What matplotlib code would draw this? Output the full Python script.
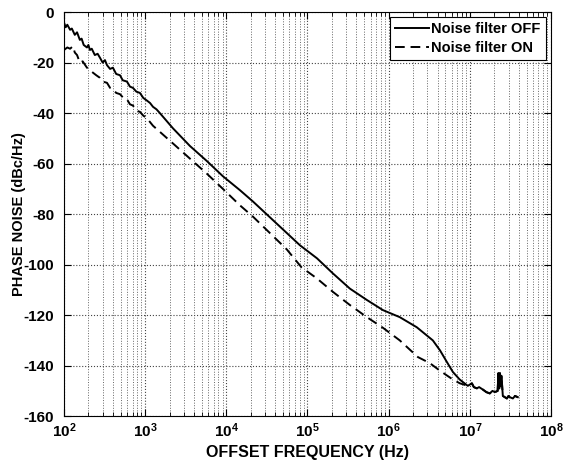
import numpy as np
import matplotlib
matplotlib.use("Agg")
import matplotlib.pyplot as plt
from matplotlib.ticker import LogLocator, MultipleLocator, NullFormatter

plt.rcParams['font.family'] = ['Liberation Sans', 'DejaVu Sans']
plt.rcParams['font.weight'] = 'bold'
plt.rcParams['axes.unicode_minus'] = False
plt.rcParams['mathtext.fontset'] = 'custom'
plt.rcParams['mathtext.rm'] = 'Liberation Sans:bold'
plt.rcParams['mathtext.it'] = 'Liberation Sans:bold'
plt.rcParams['mathtext.bf'] = 'Liberation Sans:bold'

# noise filter OFF (solid)
off_freq = [100, 105, 110, 119, 125, 136, 145, 157, 165, 175, 192, 200, 209, 220,
            240, 260, 277, 300, 320, 339, 370, 401, 440, 490, 530, 597, 650, 708,
            780, 863, 950, 1050, 1150, 1250, 1380, 1520, 2200, 3560, 5770, 9080,
            14700, 21300, 55700, 80500, 131000, 206000, 333000, 539000, 849000,
            1.37e6, 2.22e6, 3.5e6, 4.3e6, 5.2e6, 6.18e6, 7.5e6, 8.6e6]
off_db = [-4, -6, -5, -7, -6.5, -9, -8, -11, -10.5, -13, -14, -13, -15, -14.5,
          -17, -16.5, -18, -20, -19, -21, -22.5, -22, -24.5, -25, -27, -27.5, -29.5, -30,
          -31.5, -32, -34, -35, -36, -37.5, -38.5, -40, -46, -53, -59, -65,
          -70.5, -75, -87.5, -92.3, -97.5, -103.5, -109.5, -114, -118,
          -120.8, -124.8, -130, -134, -138.5, -142.5, -145.5, -147]

# noise filter ON (dashed)
on_freq = [100, 110, 119, 129, 136, 145, 157, 170, 192, 209, 228, 250, 277, 300,
           339, 370, 401, 440, 490, 540, 597, 650, 708, 780, 863, 950, 1050, 1250,
           2200, 3560, 5770, 9080, 14700, 21300, 55700, 84000, 131000, 206000,
           333000, 539000, 849000, 1.37e6, 2.29e6, 3.21e6, 4.28e6, 6.18e6, 7.53e6]
on_db = [-15, -14, -14.5, -13.5, -16, -17, -20, -19.5, -22, -23, -24, -25, -26, -27.5,
         -28, -30, -30.5, -32, -32.5, -34, -34.5, -36.5, -37, -39, -39.5, -41, -42, -45,
         -52, -58, -64, -70, -76.5, -81, -94, -101, -105.5, -110.8,
         -116, -120.8, -125, -130, -136.6, -139, -142, -145.5, -147]

# common tail above ~10 MHz, where both traces overlap
tail_freq = [9.44e6, 1.06e7, 1.12e7, 1.22e7, 1.3e7, 1.45e7, 1.6e7, 1.76e7, 1.9e7,
             2.03e7, 2.2e7, 2.25e7, 2.3e7, 2.35e7, 2.4e7, 2.45e7, 2.55e7, 2.7e7,
             2.86e7, 3.0e7, 3.11e7, 3.39e7, 3.6e7, 3.9e7]
tail_db = [-148, -147, -148.5, -149, -148.5, -149.5, -150.5, -151, -150,
           -150.5, -150, -143, -149, -143, -148, -144, -152, -152.5,
           -153, -152, -152.5, -153, -152, -152.5]

x_ticks = [1e2, 1e3, 1e4, 1e5, 1e6, 1e7, 1e8]

fig = plt.figure(figsize=(5.71, 4.66), dpi=100)
ax = fig.add_axes([0.112, 0.107, 0.853, 0.867])

ax.semilogx(off_freq + tail_freq, off_db + tail_db, color='black', lw=1.4,
            label='Noise filter OFF')
ax.semilogx(on_freq + tail_freq, on_db + tail_db, color='black', lw=1.4,
            ls=(0, (5, 3)), label='Noise filter ON')

ax.set_xlim(1e2, 1e8)
ax.set_ylim(-160, 0)
ax.set_xticks(x_ticks)
ax.xaxis.set_minor_locator(LogLocator(base=10, subs=np.arange(2, 10), numticks=100))
ax.xaxis.set_minor_formatter(NullFormatter())
ax.yaxis.set_major_locator(MultipleLocator(20))

ax.grid(True, which='major', ls=':', color='#444444', lw=0.8)
ax.grid(True, which='minor', axis='x', ls=':', color='#666666', lw=0.7)

ax.tick_params(which='both', direction='in', top=True, right=True, labelsize=11)
ax.tick_params(which='major', length=5)
ax.tick_params(axis='y', pad=7)
ax.tick_params(which='minor', length=3)
for s in ax.spines.values():
    s.set_linewidth(0.8)

ax.set_xlabel('OFFSET FREQUENCY (Hz)', fontsize=11.5, fontweight='bold', labelpad=4)
ax.set_ylabel('PHASE NOISE (dBc/Hz)', fontsize=10.5, fontweight='bold')
ax.yaxis.set_label_coords(-0.078, 0.5)

leg = ax.legend(loc='upper right', fontsize=10.5, fancybox=False, framealpha=1,
                edgecolor='black', handlelength=2.3, borderpad=0.35,
                labelspacing=0.3, handletextpad=0.2, borderaxespad=0.35)
leg.get_frame().set_linewidth(0.8)

fig.savefig('out.png', dpi=100)
